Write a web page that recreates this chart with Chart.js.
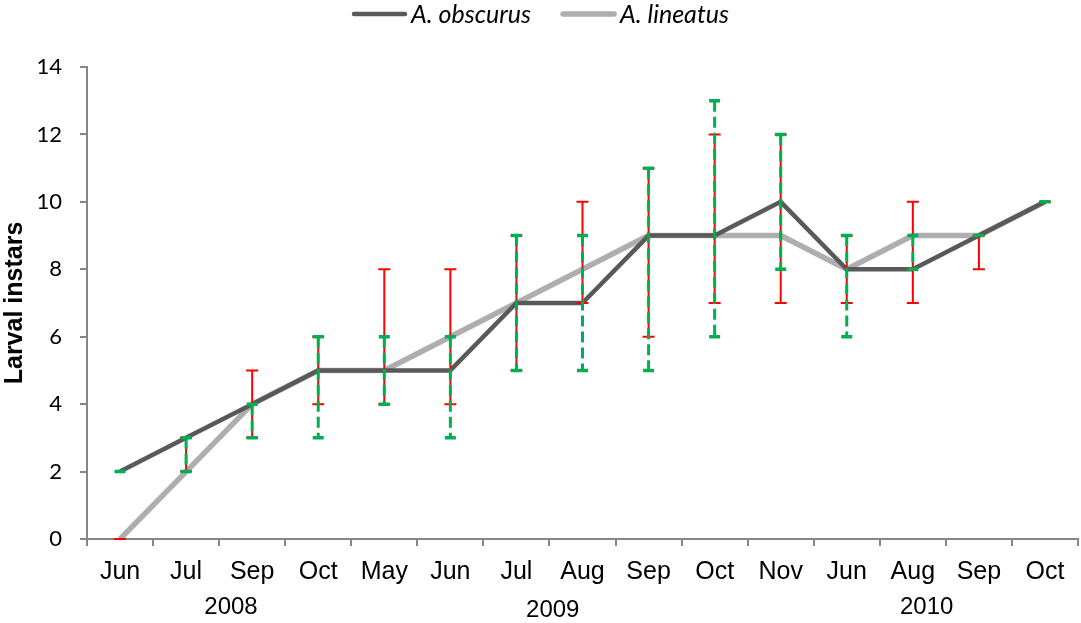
<!DOCTYPE html>
<html>
<head>
<meta charset="utf-8">
<script src="https://cdn.jsdelivr.net/npm/chart.js@4.4.1/dist/chart.umd.min.js"></script>
<style>
  html, body { margin: 0; padding: 0; background: #fff; }
  #wrap { width: 1081px; height: 623px; }
</style>
</head>
<body>
<div id="wrap"><canvas id="instars"></canvas></div>
<script>
let months = ["Jun","Jul","Sep","Oct","May","Jun","Jul","Aug","Sep","Oct","Nov","Jun","Aug","Sep","Oct"];
let years = ["2008","2009","2010"];

let obscurus     = [2,3,4,5,5,5,7,7,9,9,10,8,8,9,10];
let obscurusLow  = [2,2,3,3,4,3,5,5,5,6,8,6,8,9,10];
let obscurusHigh = [2,3,4,6,6,6,9,9,11,13,12,9,9,9,10];

let lineatus     = [0,2,4,5,5,6,7,8,9,9,9,8,9,9,10];
let lineatusLow  = [0,2,3,4,4,4,5,7,6,7,7,7,7,8,10];
let lineatusHigh = [0,3,5,6,8,8,9,10,11,12,12,9,10,9,10];

// where each year label sits, in category units under the month row
let yearAt = [1.68, 6.55, 12.21];

let axisGrey = "#868686";

// min-max bars: red solid for lineatus, green dashed for obscurus
let rangeBars = [
  { low: lineatusLow, high: lineatusHigh, color: "#ff0000", width: 2, cap: 12, capWidth: 2, dash: [] },
  { low: obscurusLow, high: obscurusHigh, color: "#00b050", width: 3, cap: 11, capWidth: 3.5, dash: [11, 5] }
];

let errorBarPlugin = {
  id: "rangeBars",
  afterDatasetsDraw(chart) {
    let ctx = chart.ctx;
    let xs = chart.scales.x;
    let ys = chart.scales.y;
    rangeBars.forEach(function(bar) {
      for (let i = 0; i < bar.low.length; i++) {
        let x = xs.getPixelForValue(i);
        let y1 = ys.getPixelForValue(bar.low[i]);
        let y2 = ys.getPixelForValue(bar.high[i]);
        ctx.save();
        ctx.strokeStyle = bar.color;
        ctx.lineCap = "butt";
        if (y1 !== y2) {
          ctx.lineWidth = bar.width;
          ctx.setLineDash(bar.dash);
          ctx.beginPath();
          ctx.moveTo(x, y2);
          ctx.lineTo(x, y1);
          ctx.stroke();
        }
        ctx.setLineDash([]);
        ctx.lineWidth = bar.capWidth;
        ctx.beginPath();
        ctx.moveTo(x - bar.cap / 2, y1);
        ctx.lineTo(x + bar.cap / 2, y1);
        ctx.moveTo(x - bar.cap / 2, y2);
        ctx.lineTo(x + bar.cap / 2, y2);
        ctx.stroke();
        ctx.restore();
      }
    });
  }
};

// year row under the month labels
let yearPlugin = {
  id: "yearRow",
  afterDraw(chart) {
    let ctx = chart.ctx;
    let xs = chart.scales.x;
    ctx.save();
    ctx.fillStyle = "#000";
    ctx.font = "24px 'Liberation Sans', Arial, sans-serif";
    ctx.textAlign = "center";
    ctx.textBaseline = "middle";
    years.forEach(function(yr, i) {
      ctx.fillText(yr, xs.getPixelForValue(yearAt[i]), i === 1 ? 610 : 607);
    });
    ctx.restore();
  }
};

// legend across the top: a line sample followed by the italic name
let topLegend = {
  id: "topLegend",
  afterDraw(chart) {
    let ctx = chart.ctx;
    let sets = chart.data.datasets;
    let sample = 55;
    let gap = 4;
    let spacing = 30;
    ctx.save();
    ctx.font = "italic 25px Lato, 'Open Sans', sans-serif";
    let total = 0;
    sets.forEach(function(ds, i) {
      total += sample + gap + ctx.measureText(ds.label).width + (i ? spacing : 0);
    });
    let x = (chart.width - total) / 2;
    let y = 14;
    sets.forEach(function(ds, i) {
      if (i) x += spacing;
      ctx.strokeStyle = ds.borderColor;
      ctx.lineWidth = ds.borderWidth;
      ctx.lineCap = "round";
      ctx.beginPath();
      ctx.moveTo(x + 2, y);
      ctx.lineTo(x + sample - 2, y);
      ctx.stroke();
      x += sample + gap;
      ctx.fillStyle = "#000";
      ctx.textBaseline = "middle";
      ctx.fillText(ds.label, x, y + 1);
      x += ctx.measureText(ds.label).width;
    });
    ctx.restore();
  }
};

let ctx = document.getElementById("instars");
let instarChart = new Chart(ctx,
{
  type: "line",
  data: {
    labels: months,
    datasets: [
      {
        label: "A. obscurus",
        data: obscurus,
        borderColor: "#595959",
        backgroundColor: "#595959",
        borderWidth: 4.5,
        pointRadius: 0,
        borderJoinStyle: "round",
        fill: false
      },
      {
        label: "A. lineatus",
        data: lineatus,
        borderColor: "#aeaeae",
        backgroundColor: "#aeaeae",
        borderWidth: 5.5,
        pointRadius: 0,
        borderJoinStyle: "round",
        fill: false
      }
    ]
  },
  options: {
    responsive: true,
    maintainAspectRatio: false,
    animation: false,
    layout: { padding: { top: 67, right: 3, left: 0, bottom: 0 } },
    plugins: {
      tooltip: { enabled: false },
      legend: { display: false }
    },
    scales: {
      x: {
        offset: true,
        afterFit: function(s) { s.height = 84; },
        border: { color: axisGrey, width: 2 },
        grid: { offset: true, drawOnChartArea: false, drawTicks: true, tickLength: 7, color: axisGrey, lineWidth: 2 },
        ticks: {
          color: "#000",
          padding: 11,
          maxRotation: 0,
          autoSkip: false,
          font: { family: "'Liberation Sans', Arial, sans-serif", size: 25 }
        }
      },
      y: {
        min: 0,
        max: 14,
        afterFit: function(s) { s.width = 87; },
        border: { color: axisGrey, width: 2 },
        grid: { drawOnChartArea: false, drawTicks: true, tickLength: 7, color: axisGrey, lineWidth: 2 },
        ticks: {
          stepSize: 2,
          color: "#000",
          padding: 18,
          font: { family: "Lato, 'Open Sans', sans-serif", size: 22 }
        },
        title: {
          display: true,
          text: "Larval instars",
          color: "#000",
          padding: { top: 0, bottom: 0 },
          font: { family: "'Liberation Sans', Arial, sans-serif", size: 25, weight: "bold" }
        }
      }
    }
  },
  plugins: [errorBarPlugin, yearPlugin, topLegend]
});
</script>
</body>
</html>
